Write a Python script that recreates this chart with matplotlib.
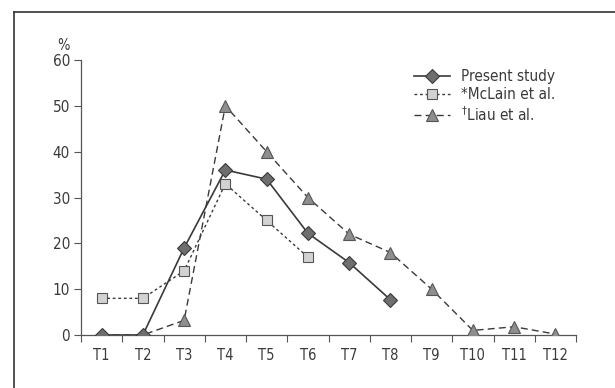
import numpy as np
import matplotlib.pyplot as plt
from matplotlib.lines import Line2D

plt.rcParams['font.family'] = ['DejaVu Sans']
plt.rcParams['font.stretch'] = 'condensed'

labels = ["T1", "T2", "T3", "T4", "T5", "T6", "T7", "T8", "T9", "T10", "T11", "T12"]

present = [0, 0, 19, 36, 34, 22.2, 15.8, 7.7]
mclain = [8, 8, 14, 33, 25, 17]
liau = [0, 0, 3.2, 50, 40, 30, 22, 18, 10, 1, 1.8, 0.2]

fig = plt.figure(figsize=(6.15, 3.88), dpi=100)
ax = fig.add_axes([81 / 615, 53 / 388, 495 / 615, 275 / 388])

x = np.arange(len(labels))
dark = "#3a3a3a"

ax.plot(x[:len(liau)], liau, linestyle=(0, (5, 3)), color=dark, lw=1.0,
        marker="^", ms=8, mfc="#8e8e8e", mec="#555555", mew=0.8, label=r"$^{\dag}$Liau et al.")
ax.plot(x[:len(mclain)], mclain, linestyle=(0, (2, 2)), color=dark, lw=1.0,
        marker="s", ms=7, mfc="#d2d2d2", mec="#555555", mew=0.8, label="*McLain et al.")
ax.plot(x[:len(present)], present, linestyle="-", color=dark, lw=1.2,
        marker="D", ms=7.5, mfc="#6e6e6e", mec="#3a3a3a", mew=0.8, label="Present study")

ax.set_xlim(-0.5, len(labels) - 0.5)
ax.set_ylim(0, 60)
ax.set_yticks(range(0, 61, 10))

ax.set_xticks(np.arange(len(labels) + 1) - 0.5)
ax.set_xticklabels([])
ax.set_xticks(x, minor=True)
ax.set_xticklabels(labels, minor=True)
ax.tick_params(axis="x", which="major", direction="out", length=5, color="#555555", width=0.8)
ax.tick_params(axis="x", which="minor", length=0, pad=9, labelsize=10.5, labelcolor="#3a3a3a")
ax.tick_params(axis="y", direction="out", length=5, color="#555555", width=0.8,
               labelsize=11, labelcolor="#3a3a3a", pad=3)

for s in ["top", "right"]:
    ax.spines[s].set_visible(False)
for s in ["left", "bottom"]:
    ax.spines[s].set_color("#555555")
    ax.spines[s].set_linewidth(0.9)
ax.spines["bottom"].set_zorder(0)

ax.text(-0.035, 1.025, "%", transform=ax.transAxes, ha="center", va="bottom",
        fontsize=10.5, color="#3a3a3a")

handles, labs = ax.get_legend_handles_labels()
leg = ax.legend(handles[::-1], labs[::-1], loc="upper left", bbox_to_anchor=(0.66, 0.99),
                frameon=False, fontsize=11, handlelength=2.4, handletextpad=0.7,
                labelspacing=0.2, borderaxespad=0)
for t in leg.get_texts():
    t.set_color("#3a3a3a")

fig.add_artist(Line2D([14 / 615, 14 / 615], [0, 1 - 12 / 388], color="#333333", lw=1.2))
fig.add_artist(Line2D([14 / 615, 1], [1 - 12 / 388, 1 - 12 / 388], color="#333333", lw=1.2))

fig.savefig("out.png", dpi=100)
